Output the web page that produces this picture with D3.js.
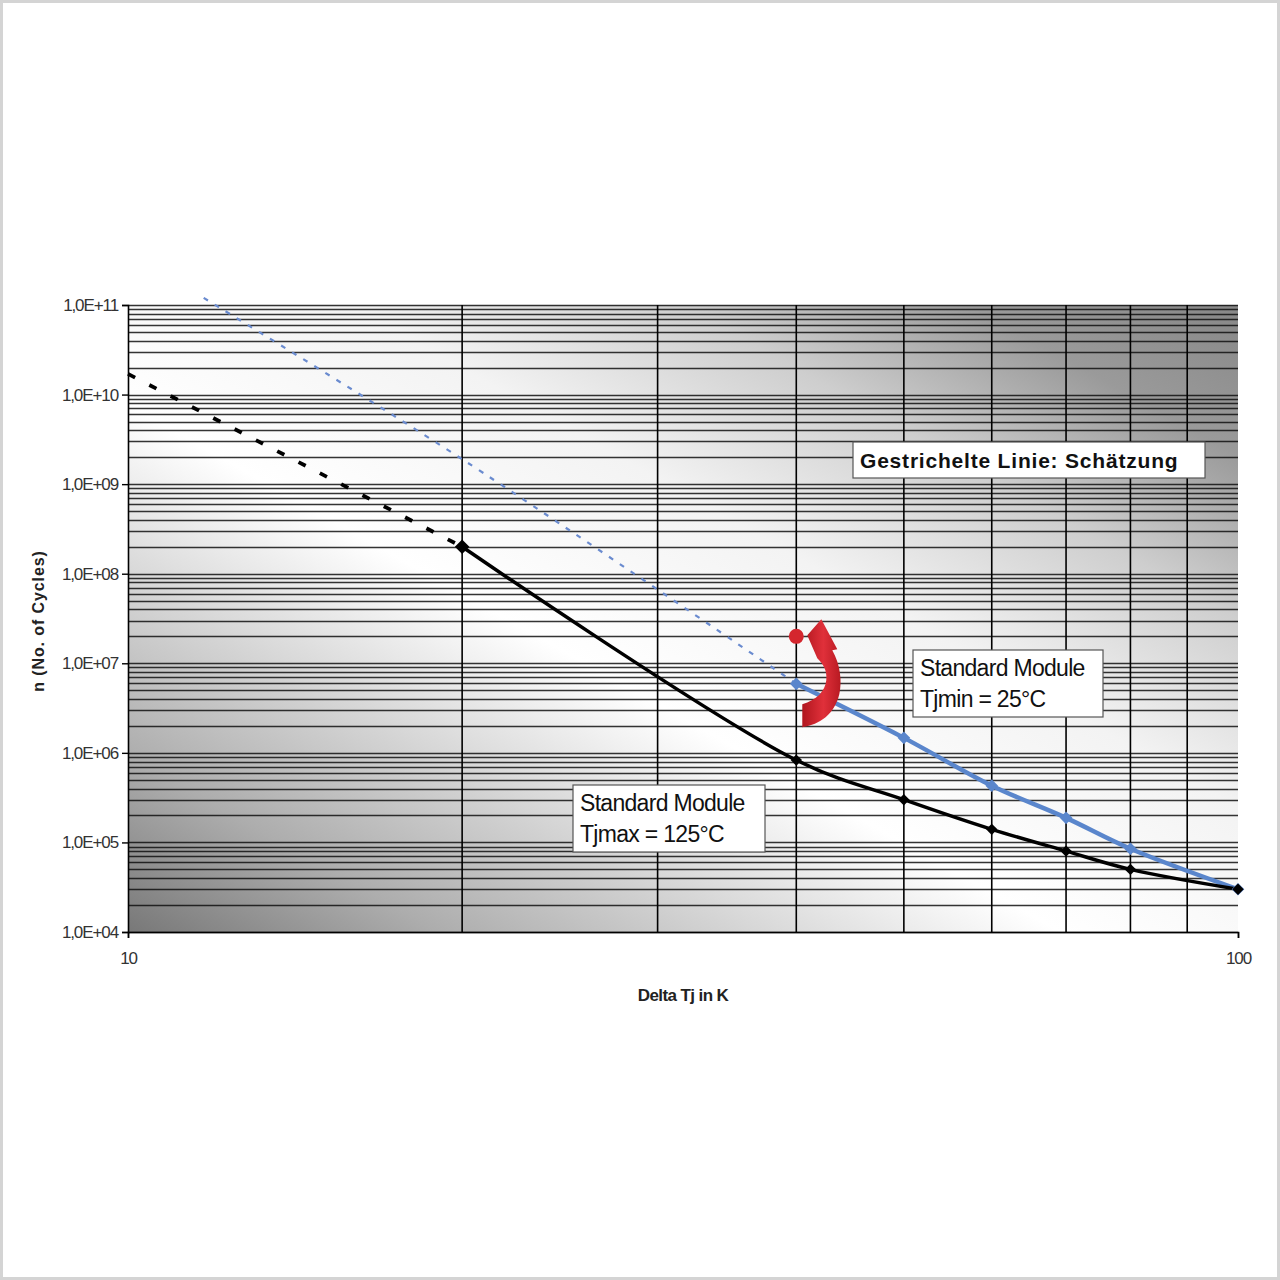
<!DOCTYPE html>
<html><head><meta charset="utf-8">
<script src="https://cdn.jsdelivr.net/npm/d3@7"></script>
<style>
html,body{margin:0;padding:0;background:#fff;}
svg{display:block;}
</style></head>
<body>
<svg id="chart" width="1280" height="1280"></svg>
<script>
// ---- data ----
const xTickValues = [10, 100];
const xTickLabels = ["10", "100"];
const yTickValues = [1e4, 1e5, 1e6, 1e7, 1e8, 1e9, 1e10, 1e11];
const yTickLabels = ["1,0E+04", "1,0E+05", "1,0E+06", "1,0E+07", "1,0E+08", "1,0E+09", "1,0E+10", "1,0E+11"];
const xGridValues = [20, 30, 40, 50, 60, 70, 80, 90];

// Standard Module Tjmax = 125°C (measured, solid)
const blackX = [20, 40, 50, 60, 70, 80, 100];
const blackY = [2.0e8, 8.3e5, 3.0e5, 1.4e5, 8.0e4, 5.0e4, 3.0e4];
// Tjmax = 125°C estimate (dashed)
const blackEstX = [10, 20];
const blackEstY = [1.7e10, 2.0e8];

// Standard Module Tjmin = 25°C (measured, solid)
const blueX = [40, 50, 60, 70, 80, 100];
const blueY = [5.9e6, 1.47e6, 4.3e5, 1.88e5, 8.5e4, 3.0e4];
// Tjmin = 25°C estimate (dashed)
const blueEstX = [11.7, 20, 40];
const blueEstY = [1.2e11, 1.9e9, 5.9e6];

// highlighted point
const redX = [40];
const redY = [2.0e7];

// ---- layout ----
const svg = d3.select("#chart");
const L = 128, R = 1238, T = 305, B = 932;
const x = d3.scaleLog().domain([10, 100]).range([L, R]);
const y = d3.scaleLog().domain([1e4, 1e11]).range([B, T]);

// outer frame
svg.append("rect").attr("x", 1.5).attr("y", 1.5).attr("width", 1277).attr("height", 1277)
  .attr("fill", "#fff").attr("stroke", "#d4d4d4").attr("stroke-width", 3);

// gradient background
const defs = svg.append("defs");
const g = defs.append("linearGradient").attr("id", "bg")
  .attr("x1", 0).attr("y1", 1).attr("x2", 1).attr("y2", 0);
[[0, "#787878"], [0.14, "#adadad"], [0.25, "#cdcdcd"], [0.42, "#ffffff"], [0.6, "#f3f3f3"],
 [0.75, "#cecece"], [0.88, "#9a9a9a"], [1, "#888888"]].forEach(s =>
  g.append("stop").attr("offset", s[0]).attr("stop-color", s[1]));
const rg = defs.append("linearGradient").attr("id", "redg")
  .attr("x1", 0).attr("y1", 0).attr("x2", 1).attr("y2", 0);
rg.append("stop").attr("offset", "0%").attr("stop-color", "#b0161e");
rg.append("stop").attr("offset", "55%").attr("stop-color", "#e0303a");
rg.append("stop").attr("offset", "100%").attr("stop-color", "#b81a22");

svg.append("rect").attr("x", L).attr("y", T).attr("width", R - L).attr("height", B - T)
  .attr("fill", "url(#bg)");

// horizontal grid (major + minor)
const hVals = [];
for (let k = 4; k <= 10; k++) for (let m = 1; m <= 9; m++) hVals.push(m * Math.pow(10, k));
hVals.push(1e11);
svg.append("g").selectAll("line").data(hVals).join("line")
  .attr("x1", L).attr("x2", R)
  .attr("y1", d => Math.round(y(d)) + 0.5).attr("y2", d => Math.round(y(d)) + 0.5)
  .attr("stroke", "#111").attr("stroke-width", d => (Math.abs(Math.log10(d) % 1) < 1e-9 ? 1.6 : 1.3))
  .attr("stroke-opacity", 0.85);

// vertical grid
svg.append("g").selectAll("line").data(xGridValues).join("line")
  .attr("x1", d => x(d)).attr("x2", d => x(d)).attr("y1", T).attr("y2", B)
  .attr("stroke", "#000").attr("stroke-width", 1.6);

const tickFont = "'Liberation Sans',Arial,sans-serif";
// axes
const yAxis = d3.axisLeft(y).tickValues(yTickValues).tickFormat((d, i) => yTickLabels[i]).tickSize(6).tickPadding(4);
const ya = svg.append("g").attr("transform", `translate(${L},0)`).call(yAxis);
ya.select(".domain").attr("stroke", "#000").attr("stroke-width", 1.6);
ya.selectAll(".tick line").attr("stroke", "#000").attr("stroke-width", 1.4);
ya.selectAll(".tick text").attr("font-family", tickFont)
  .attr("font-size", 17).attr("fill", "#333").attr("letter-spacing", -1.1);

const xAxis = d3.axisBottom(x).tickValues(xTickValues).tickFormat((d, i) => xTickLabels[i]).tickSize(6).tickPadding(14);
const xa = svg.append("g").attr("transform", `translate(0,${B})`).call(xAxis);
xa.select(".domain").attr("stroke", "#000").attr("stroke-width", 1.6);
xa.selectAll(".tick line").attr("stroke", "#000").attr("stroke-width", 1.4);
xa.selectAll(".tick text").attr("font-family", tickFont)
  .attr("font-size", 17).attr("fill", "#333").attr("letter-spacing", -1.1);

// axis titles
svg.append("text").attr("x", 683).attr("y", 1001).attr("text-anchor", "middle")
  .attr("font-family", tickFont).attr("font-weight", "bold")
  .attr("font-size", 17).attr("fill", "#222").attr("letter-spacing", -0.6).text("Delta Tj in K");
svg.append("text").attr("transform", `translate(44,621) rotate(-90)`).attr("text-anchor", "middle")
  .attr("font-family", tickFont).attr("font-weight", "bold")
  .attr("font-size", 16).attr("fill", "#222").attr("letter-spacing", 0.9).text("n (No. of Cycles)");

// lines
const toPts = (xs, ys) => xs.map((v, i) => [x(v), y(ys[i])]);
const lineStraight = d3.line();
const lineSmooth = d3.line().curve(d3.curveCatmullRom.alpha(0.5));

// blue estimate dashed
svg.append("path").attr("d", lineSmooth(toPts(blueEstX, blueEstY)))
  .attr("fill", "none").attr("stroke", "#6a8bcf").attr("stroke-width", 2.2)
  .attr("stroke-dasharray", "5,8");
// black estimate dashed
svg.append("path").attr("d", lineStraight(toPts(blackEstX, blackEstY)))
  .attr("fill", "none").attr("stroke", "#000").attr("stroke-width", 3.8)
  .attr("stroke-dasharray", "8,16");

// blue solid
svg.append("path").attr("d", lineSmooth(toPts(blueX, blueY)))
  .attr("fill", "none").attr("stroke", "#5a86cc").attr("stroke-width", 4.5);
// black solid
svg.append("path").attr("d", lineSmooth(toPts(blackX, blackY)))
  .attr("fill", "none").attr("stroke", "#000").attr("stroke-width", 3.5);

const diamond = d3.symbol().type(d3.symbolSquare).size(80);
svg.append("g").selectAll("path").data(toPts(blueX, blueY)).join("path")
  .attr("transform", d => `translate(${d[0]},${d[1]}) rotate(45)`).attr("d", diamond).attr("fill", "#5a86cc");
svg.append("g").selectAll("path").data(toPts(blackX, blackY)).join("path")
  .attr("transform", (d, i) => `translate(${d[0]},${d[1]}) rotate(45) scale(${i === 0 ? 1.15 : 0.9})`)
  .attr("d", diamond).attr("fill", "#000");

// red point + curved arrow
const rp = toPts(redX, redY)[0];
svg.append("circle").attr("cx", rp[0]).attr("cy", rp[1]).attr("r", 7.5).attr("fill", "#d4262e");
svg.append("path")
  .attr("transform", `translate(${rp[0]},${rp[1]})`)
  .attr("d", "M25,-17 L41,13 L36,14 C44,28 46,45 43,58 C38,78 24,88 6,91 L6,68 C20,64 29,55 30,44 C31,34 27,28 21,22 L11,-1 Z")
  .attr("fill", "url(#redg)");

// text boxes
function box(lines, bx, by, bw, bh, fs, weight, ls, lh, first) {
  const gg = svg.append("g");
  gg.append("rect").attr("x", bx).attr("y", by).attr("width", bw).attr("height", bh)
    .attr("fill", "#fff").attr("stroke", "#555").attr("stroke-width", 1.2);
  lines.forEach((t, i) => {
    gg.append("text").attr("x", bx + 7).attr("y", by + first + i * lh)
      .attr("font-family", tickFont).attr("font-weight", weight).attr("letter-spacing", ls)
      .attr("font-size", fs).attr("fill", "#111").text(t);
  });
}
box(["Gestrichelte Linie: Schätzung"], 853, 442, 352, 36, 21, "bold", 0.8, 0, 26);
box(["Standard Module", "Tjmax = 125°C"], 573, 785, 192, 67, 23, "normal", -0.7, 31, 26);
box(["Standard Module", "Tjmin = 25°C"], 913, 650, 190, 67, 23, "normal", -0.7, 31, 26);
</script>
</body></html>
